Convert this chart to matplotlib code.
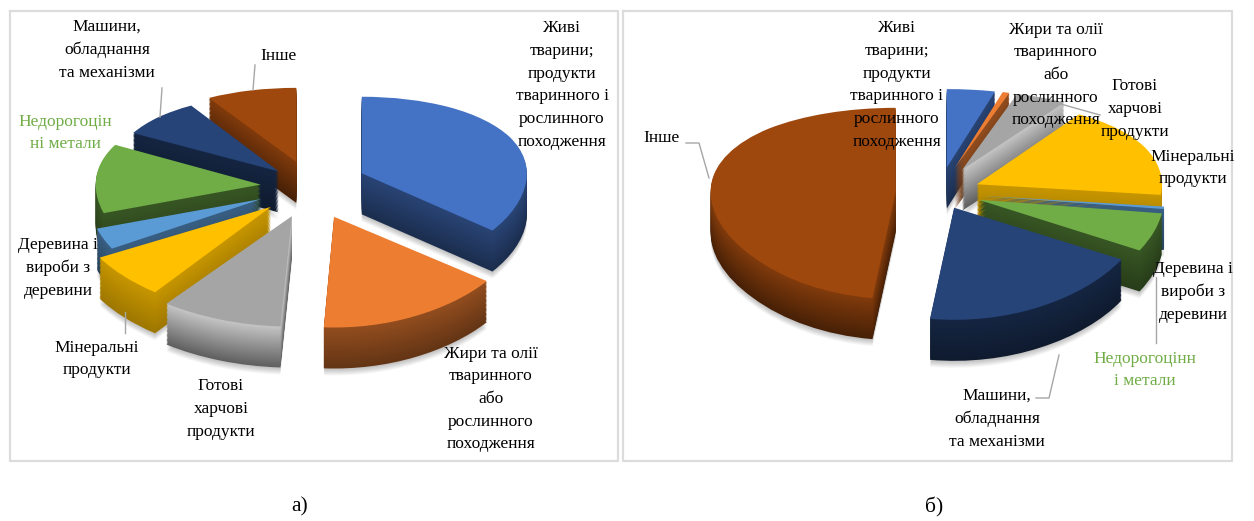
import numpy as np
import matplotlib
matplotlib.use('Agg')
import matplotlib.pyplot as plt
from matplotlib.colors import to_rgb
from matplotlib.transforms import Affine2D

plt.rcParams['font.family'] = ['Liberation Serif', 'DejaVu Serif']

W, H = 1254, 521

# Shares of the trade structure, % (same category order in both panels)
categories = ['Живі тварини', 'Жири та олії', 'Готові харчові продукти', 'Мінеральні продукти',
              'Деревина', 'Недорогоцінні метали', 'Машини', 'Інше']
shares_a = [35.5, 15.4, 9.1, 6.7, 3.4, 12.8, 8.3, 8.9]
shares_b = [4.2, 0.6, 4.5, 17.5, 0.4, 6, 18.8, 48]
explode_a = [0.35, 0.35, 0.33, 0.32, 0.32, 0.30, 0.26, 0.30]
explode_b = [0.28, 0.28, 0.28, 0.22, 0.22, 0.22, 0.17, 0.24]
# wider slices toward the viewer
widen_a = [1, 1.17, 1.3, 1.2, 1.05, 1, 1, 1]
widen_b = [1, 1, 1, 1, 1, 1, 1.04, 1]
colors = ['#4472C4', '#ED7D31', '#A5A5A5', '#FFC000', '#5B9BD5', '#70AD47', '#264478', '#9E480E']
side_light = [0.60, 0.62, 1.20, 0.78, 0.62, 0.50, 0.55, 0.82]
side_dark = [0.40, 0.42, 0.58, 0.62, 0.42, 0.35, 0.38, 0.45]

LOG_A = 0.25
DEPTH_PX = 41
LAYERS = 32
SHADOW = 7


def persp_fwd(y):
    return (1 - np.exp(-LOG_A * np.asarray(y, dtype=float))) / LOG_A


def persp_inv(v):
    return -np.log(np.maximum(1 - LOG_A * np.asarray(v, dtype=float), 1e-6)) / LOG_A


def shade(color, factor):
    return tuple(min(1, c * factor) for c in to_rgb(color))


def place_wedges(ax, wedges, rank, base, widen, drop):
    for w, r, s in zip(wedges, rank, widen):
        w.set_zorder(base + r * 100)
        stretch = Affine2D().translate(-w.center[0], 0).scale(s, 1).translate(w.center[0], 0)
        w.set_transform(stretch + ax.transData + Affine2D().translate(0, -drop))


def draw_pie(box, cx, cy, rx, ry, shares, explode, widen):
    x0, y0, x1, y1 = box
    ax = fig.add_axes([x0 / W, 1 - y1 / H, (x1 - x0) / W, (y1 - y0) / H])
    # back slices first so the nearer ones cover them
    edges = np.cumsum([0] + list(shares)) / sum(shares) * 2 * np.pi
    mids = (edges[:-1] + edges[1:]) / 2
    rank = np.argsort(np.argsort(-np.cos(mids)))

    # soft shadow under each slice
    for s in range(SHADOW):
        wedges, _ = ax.pie(shares, explode=explode, colors=['black'] * len(colors), startangle=90,
                           counterclock=False, frame=True, wedgeprops={'linewidth': 0, 'alpha': 0.035})
        place_wedges(ax, wedges, rank, 1, widen, DEPTH_PX + SHADOW - s)

    # side wall as a stack of copies, then the top face
    for k in range(LAYERS + 1):
        t = k / LAYERS
        if k < LAYERS:
            layer = [shade(c, d + (l - d) * t) for c, l, d in zip(colors, side_light, side_dark)]
        else:
            layer = colors
        wedges, _ = ax.pie(shares, explode=explode, colors=layer, startangle=90, counterclock=False,
                           frame=True, wedgeprops={'linewidth': 0})
        place_wedges(ax, wedges, rank, 10 + k, widen, DEPTH_PX * (1 - t))
    ax.set_aspect('auto')
    ax.set_yscale('function', functions=(persp_fwd, persp_inv))
    ax.set_xlim((x0 - cx) / rx, (x1 - cx) / rx)
    ax.set_ylim(persp_inv((cy - y1) / ry), persp_inv((cy - y0) / ry))
    ax.axis('off')


fig = plt.figure(figsize=(W / 100, H / 100), dpi=100, facecolor='white')

draw_pie((10, 11, 618, 461), 310, 187, 165, 90, shares_a, explode_a, widen_a)
draw_pie((623, 11, 1232, 461), 940, 193, 185, 95, shares_b, explode_b, widen_b)

# Overlay in pixel units for frames, labels and leader lines
ov = fig.add_axes([0, 0, 1, 1], zorder=5)
ov.set_xlim(0, W)
ov.set_ylim(H, 0)
ov.axis('off')

for x0, x1 in [(10, 618), (623, 1232)]:
    ov.plot([x0, x1, x1, x0, x0], [11, 11, 461, 461, 11], color='#dcdcdc', lw=1.6)

labels = [
    (107, 50, 'Машини,\nобладнання\nта механізми', 'black'),
    (278, 56, 'Інше', 'black'),
    (562, 85, 'Живі\nтварини;\nпродукти\nтваринного і\nрослинного\nпоходження', 'black'),
    (65, 133, 'Недорогоцін\nні метали', '#70AD47'),
    (58, 268, 'Деревина і\nвироби з\nдеревини', 'black'),
    (97, 359, 'Мінеральні\nпродукти', 'black'),
    (221, 409, 'Готові\nхарчові\nпродукти', 'black'),
    (491, 399, 'Жири та олії\nтваринного\nабо\nрослинного\nпоходження', 'black'),
    (897, 85, 'Живі\nтварини;\nпродукти\nтваринного і\nрослинного\nпоходження', 'black'),
    (1056, 75, 'Жири та олії\nтваринного\nабо\nрослинного\nпоходження', 'black'),
    (1135, 109, 'Готові\nхарчові\nпродукти', 'black'),
    (661, 138, 'Інше', 'black'),
    (1193, 168, 'Мінеральні\nпродукти', 'black'),
    (1193, 292, 'Деревина і\nвироби з\nдеревини', 'black'),
    (1145, 370, 'Недорогоцінн\nі метали', '#70AD47'),
    (997, 419, 'Машини,\nобладнання\nта механізми', 'black'),
]
for x, y, s, col in labels:
    ov.text(x, y, s, ha='center', va='center', fontsize=12.5, color=col, linespacing=1.55)

leaders = [
    ([162, 160], [88, 117]),
    ([255, 253], [65, 90]),
    ([125, 125], [312, 333]),
    ([686, 699, 709], [143, 143, 178]),
    ([1057, 1100], [103, 115]),
    ([1156, 1156], [277, 343]),
    ([1059, 1049, 1036], [355, 398, 398]),
]
for xs, ys in leaders:
    ov.plot(xs, ys, color='#a6a6a6', lw=1)

ov.text(300, 507, 'а)', ha='center', va='center', fontsize=15.5)
ov.text(934, 507, 'б)', ha='center', va='center', fontsize=15.5)

fig.savefig('out.png', dpi=100)
